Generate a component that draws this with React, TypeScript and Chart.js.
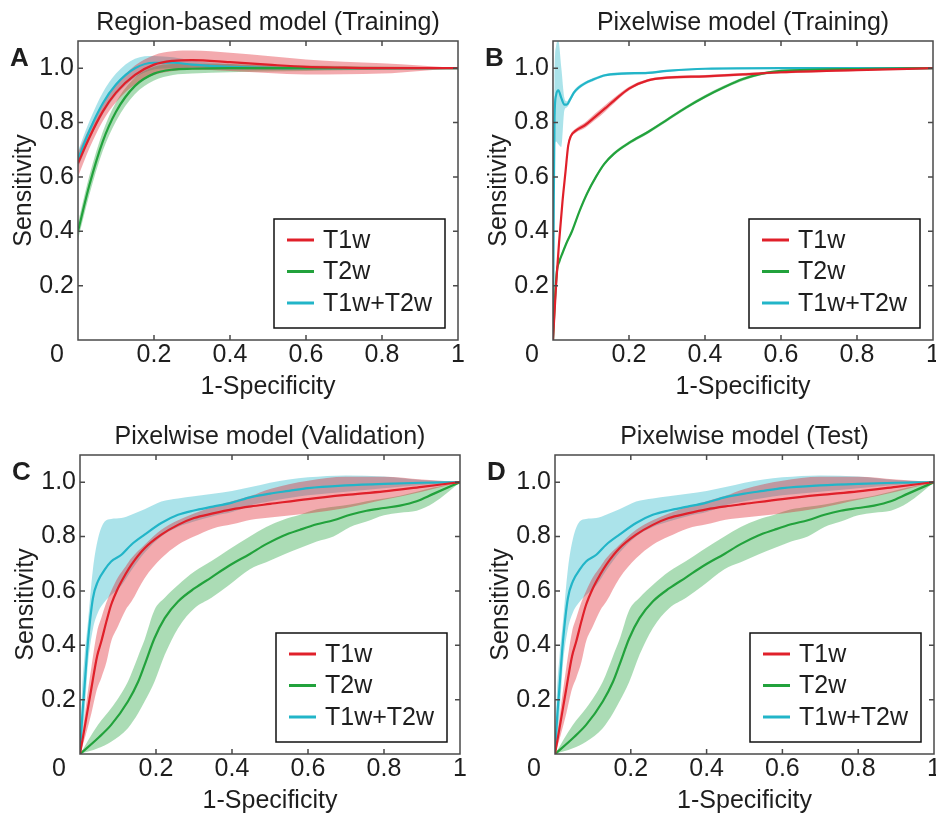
import React, { useEffect, useRef } from "react";
import { Chart, registerables } from "chart.js";

Chart.register(...registerables);

const FONT = "'Liberation Sans', Arial, Helvetica, sans-serif";
const TEXT_COLOR = "#1e1e1e";
const AXIS_COLOR = "#4a4a4a";

const SERIES_NAMES = ["T1w", "T2w", "T1w+T2w"];
const LINE_COLORS = ["#e0202a", "#22a23c", "#22b5c8"];
const BAND_COLORS = ["rgba(224,32,42,0.38)", "rgba(34,162,60,0.38)", "rgba(34,181,200,0.38)"];

const X_TICKS = [0, 0.2, 0.4, 0.6, 0.8, 1];
const Y_TICKS = [0.2, 0.4, 0.6, 0.8, 1.0];

// ---------- Panel A: Region-based model (Training) ----------
const A_X = [0, 0.03, 0.065, 0.1, 0.15, 0.2, 0.25, 0.3, 0.4, 0.5, 0.6, 0.7, 0.8, 0.9, 1];
const A_T1W = [0.65, 0.745, 0.84, 0.91, 0.975, 1.013, 1.027, 1.03, 1.022, 1.013, 1.005, 1.002, 1.0, 1.0, 1.0];
const A_T1W_LO = [0.6, 0.705, 0.805, 0.875, 0.94, 0.975, 0.99, 0.995, 0.99, 0.982, 0.977, 0.978, 0.98, 0.99, 1.0];
const A_T1W_HI = [0.69, 0.78, 0.87, 0.94, 1.01, 1.048, 1.062, 1.065, 1.057, 1.045, 1.032, 1.024, 1.018, 1.01, 1.0];
const A_T2W = [0.4, 0.57, 0.73, 0.84, 0.935, 0.98, 0.995, 0.998, 1.0, 1.0, 1.0, 1.0, 1.0, 1.0, 1.0];
const A_T2W_LO = [0.37, 0.535, 0.695, 0.805, 0.905, 0.955, 0.975, 0.98, 0.985, 0.988, 0.99, 0.992, 0.994, 0.996, 1.0];
const A_T2W_HI = [0.43, 0.605, 0.765, 0.875, 0.965, 1.005, 1.015, 1.016, 1.015, 1.012, 1.01, 1.008, 1.006, 1.004, 1.0];
const A_T12W = [0.665, 0.77, 0.87, 0.94, 1.0, 1.02, 1.02, 1.013, 1.005, 1.001, 1.0, 1.0, 1.0, 1.0, 1.0];
const A_T12W_LO = [0.635, 0.735, 0.83, 0.9, 0.965, 0.995, 1.0, 0.998, 0.995, 0.993, 0.994, 0.995, 0.996, 0.998, 1.0];
const A_T12W_HI = [0.695, 0.805, 0.91, 0.98, 1.035, 1.045, 1.04, 1.028, 1.015, 1.009, 1.006, 1.004, 1.003, 1.002, 1.0];

// ---------- Panel B: Pixelwise model (Training) ----------
const B_T1W_X = [0, 0.008, 0.016, 0.025, 0.033, 0.04, 0.047, 0.06, 0.084, 0.11, 0.137, 0.16, 0.2, 0.25, 0.3, 0.4, 0.5, 0.6, 0.8, 1];
const B_T1W = [0, 0.2, 0.36, 0.51, 0.62, 0.715, 0.75, 0.77, 0.79, 0.82, 0.852, 0.88, 0.925, 0.955, 0.965, 0.97, 0.977, 0.985, 0.993, 1.0];
const B_T1W_LO = [0, 0.19, 0.35, 0.5, 0.61, 0.705, 0.742, 0.762, 0.78, 0.808, 0.84, 0.87, 0.918, 0.95, 0.96, 0.965, 0.972, 0.98, 0.99, 1.0];
const B_T1W_HI = [0, 0.21, 0.37, 0.52, 0.63, 0.725, 0.758, 0.778, 0.8, 0.832, 0.864, 0.89, 0.932, 0.96, 0.97, 0.975, 0.982, 0.99, 0.996, 1.0];
const B_T2W_X = [0, 0.004, 0.01, 0.017, 0.025, 0.035, 0.05, 0.07, 0.09, 0.113, 0.135, 0.16, 0.2, 0.25, 0.3, 0.35, 0.4, 0.45, 0.5, 0.55, 0.6, 0.7, 0.8, 1];
const B_T2W = [0, 0.12, 0.25, 0.29, 0.32, 0.355, 0.4, 0.475, 0.54, 0.6, 0.648, 0.685, 0.725, 0.765, 0.81, 0.855, 0.895, 0.93, 0.96, 0.98, 0.99, 0.995, 0.997, 1.0];
const B_T2W_LO = [0, 0.114, 0.244, 0.284, 0.314, 0.349, 0.394, 0.469, 0.534, 0.594, 0.642, 0.679, 0.719, 0.759, 0.804, 0.849, 0.889, 0.924, 0.954, 0.975, 0.986, 0.992, 0.995, 1.0];
const B_T2W_HI = [0, 0.126, 0.256, 0.296, 0.326, 0.361, 0.406, 0.481, 0.546, 0.606, 0.654, 0.691, 0.731, 0.771, 0.816, 0.861, 0.901, 0.936, 0.966, 0.985, 0.994, 0.998, 0.999, 1.0];
const B_T12W_X = [0, 0.002, 0.004, 0.008, 0.014, 0.022, 0.03, 0.036, 0.045, 0.055, 0.067, 0.085, 0.102, 0.137, 0.18, 0.25, 0.3, 0.4, 0.6, 1];
const B_T12W = [0, 0.5, 0.82, 0.9, 0.918, 0.89, 0.866, 0.866, 0.885, 0.91, 0.928, 0.945, 0.956, 0.974, 0.98, 0.983, 0.99, 0.998, 1.0, 1.0];
const B_T12W_LO = [0, 0.45, 0.7, 0.73, 0.72, 0.71, 0.845, 0.855, 0.875, 0.902, 0.921, 0.939, 0.95, 0.969, 0.975, 0.979, 0.986, 0.995, 0.998, 1.0];
const B_T12W_HI = [0, 0.55, 0.95, 1.08, 1.1, 1.0, 0.89, 0.878, 0.895, 0.918, 0.935, 0.951, 0.962, 0.979, 0.985, 0.987, 0.994, 1.001, 1.002, 1.0];

// ---------- Panel C: Pixelwise model (Validation) ----------
const C_T1W_X = [0, 0.015, 0.03, 0.045, 0.056, 0.07, 0.082, 0.1, 0.12, 0.135, 0.17, 0.214, 0.258, 0.3, 0.35, 0.4, 0.45, 0.5, 0.6, 0.7, 0.8, 0.9, 1];
const C_T1W = [0, 0.12, 0.242, 0.36, 0.414, 0.49, 0.549, 0.61, 0.662, 0.696, 0.757, 0.807, 0.843, 0.868, 0.885, 0.9, 0.911, 0.92, 0.938, 0.953, 0.966, 0.983, 1.0];
const C_T1W_LO = [0, 0.07, 0.15, 0.24, 0.28, 0.34, 0.414, 0.47, 0.53, 0.56, 0.647, 0.72, 0.77, 0.8, 0.83, 0.845, 0.862, 0.87, 0.885, 0.905, 0.935, 0.965, 1.0];
const C_T1W_HI = [0, 0.17, 0.32, 0.45, 0.5, 0.56, 0.6, 0.65, 0.69, 0.72, 0.77, 0.825, 0.86, 0.885, 0.91, 0.93, 0.95, 0.975, 1.005, 1.02, 1.02, 1.01, 1.0];
const C_T2W_X = [0, 0.047, 0.082, 0.126, 0.153, 0.17, 0.196, 0.223, 0.258, 0.302, 0.346, 0.389, 0.447, 0.49, 0.535, 0.579, 0.623, 0.667, 0.711, 0.754, 0.8, 0.842, 0.886, 0.93, 1];
const C_T2W = [0, 0.058, 0.107, 0.193, 0.266, 0.328, 0.426, 0.5, 0.561, 0.61, 0.65, 0.69, 0.736, 0.772, 0.803, 0.825, 0.845, 0.86, 0.88, 0.895, 0.905, 0.914, 0.93, 0.957, 1.0];
const C_T2W_LO = [0, 0.021, 0.045, 0.095, 0.15, 0.193, 0.266, 0.365, 0.463, 0.537, 0.575, 0.618, 0.68, 0.705, 0.733, 0.758, 0.782, 0.8, 0.835, 0.855, 0.878, 0.888, 0.895, 0.923, 1.0];
const C_T2W_HI = [0, 0.107, 0.168, 0.266, 0.36, 0.42, 0.53, 0.575, 0.622, 0.672, 0.71, 0.75, 0.8, 0.835, 0.862, 0.88, 0.9, 0.91, 0.918, 0.93, 0.94, 0.95, 0.965, 0.98, 1.0];
const C_T12W_X = [0, 0.005, 0.012, 0.021, 0.034, 0.047, 0.065, 0.082, 0.109, 0.135, 0.17, 0.214, 0.258, 0.3, 0.35, 0.4, 0.45, 0.5, 0.55, 0.6, 0.7, 0.8, 0.9, 1];
const C_T12W = [0, 0.12, 0.25, 0.414, 0.573, 0.635, 0.678, 0.708, 0.733, 0.77, 0.807, 0.85, 0.88, 0.896, 0.91, 0.925, 0.945, 0.958, 0.968, 0.978, 0.988, 0.994, 0.998, 1.0];
const C_T12W_LO = [0, 0.05, 0.15, 0.33, 0.46, 0.52, 0.56, 0.585, 0.62, 0.675, 0.74, 0.8, 0.835, 0.855, 0.875, 0.89, 0.915, 0.93, 0.942, 0.952, 0.965, 0.978, 0.99, 1.0];
const C_T12W_HI = [0, 0.22, 0.36, 0.487, 0.68, 0.79, 0.855, 0.865, 0.868, 0.88, 0.9, 0.929, 0.94, 0.948, 0.957, 0.968, 0.982, 0.998, 1.01, 1.018, 1.025, 1.021, 1.008, 1.0];

// ---------- Panel D: Pixelwise model (Test) — curves read identical to panel C ----------
const D_T1W_X = C_T1W_X, D_T1W = C_T1W, D_T1W_LO = C_T1W_LO, D_T1W_HI = C_T1W_HI;
const D_T2W_X = C_T2W_X, D_T2W = C_T2W, D_T2W_LO = C_T2W_LO, D_T2W_HI = C_T2W_HI;
const D_T12W_X = C_T12W_X, D_T12W = C_T12W, D_T12W_LO = C_T12W_LO, D_T12W_HI = C_T12W_HI;

type Series = { x: number[]; y: number[]; lo: number[]; hi: number[] };
type PanelDef = {
  title: string;
  letter: string;
  box: { left: number; top: number; width: number; height: number };
  area: { l: number; t: number; r: number; b: number };
  series: Series[];
};

const PANELS: PanelDef[] = [
  {
    title: "Region-based model (Training)",
    letter: "A",
    box: { left: 0, top: 0, width: 468, height: 410 },
    area: { l: 78, t: 41, r: 458, b: 340 },
    series: [
      { x: A_X, y: A_T1W, lo: A_T1W_LO, hi: A_T1W_HI },
      { x: A_X, y: A_T2W, lo: A_T2W_LO, hi: A_T2W_HI },
      { x: A_X, y: A_T12W, lo: A_T12W_LO, hi: A_T12W_HI },
    ],
  },
  {
    title: "Pixelwise model (Training)",
    letter: "B",
    box: { left: 468, top: 0, width: 468, height: 410 },
    area: { l: 85, t: 41, r: 465, b: 340 },
    series: [
      { x: B_T1W_X, y: B_T1W, lo: B_T1W_LO, hi: B_T1W_HI },
      { x: B_T2W_X, y: B_T2W, lo: B_T2W_LO, hi: B_T2W_HI },
      { x: B_T12W_X, y: B_T12W, lo: B_T12W_LO, hi: B_T12W_HI },
    ],
  },
  {
    title: "Pixelwise model (Validation)",
    letter: "C",
    box: { left: 0, top: 410, width: 468, height: 409 },
    area: { l: 80, t: 45, r: 460, b: 344 },
    series: [
      { x: C_T1W_X, y: C_T1W, lo: C_T1W_LO, hi: C_T1W_HI },
      { x: C_T2W_X, y: C_T2W, lo: C_T2W_LO, hi: C_T2W_HI },
      { x: C_T12W_X, y: C_T12W, lo: C_T12W_LO, hi: C_T12W_HI },
    ],
  },
  {
    title: "Pixelwise model (Test)",
    letter: "D",
    box: { left: 468, top: 410, width: 468, height: 409 },
    area: { l: 87, t: 45, r: 466, b: 344 },
    series: [
      { x: D_T1W_X, y: D_T1W, lo: D_T1W_LO, hi: D_T1W_HI },
      { x: D_T2W_X, y: D_T2W, lo: D_T2W_LO, hi: D_T2W_HI },
      { x: D_T12W_X, y: D_T12W, lo: D_T12W_LO, hi: D_T12W_HI },
    ],
  },
];

const Y_AXIS_W = 70;
const X_AXIS_H = 62;
const TITLE_PAD = { top: 4, bottom: 2.5 };
const TITLE_H = 30 + TITLE_PAD.top + TITLE_PAD.bottom;

const decorPlugin = {
  id: "panelDecor",
  afterDraw(chart: any, _args: any, opts: any) {
    const ctx = chart.ctx as CanvasRenderingContext2D;
    const { left, right, top, bottom } = chart.chartArea;
    const xs = chart.scales.x;
    const ys = chart.scales.y;
    ctx.save();
    // frame
    ctx.strokeStyle = AXIS_COLOR;
    ctx.lineWidth = 1.5;
    ctx.strokeRect(left, top, right - left, bottom - top);
    // inward ticks on all four sides
    const tl = 5;
    ctx.beginPath();
    X_TICKS.forEach((v) => {
      if (v <= 0 || v >= 1) return;
      const px = xs.getPixelForValue(v);
      ctx.moveTo(px, bottom);
      ctx.lineTo(px, bottom - tl);
      ctx.moveTo(px, top);
      ctx.lineTo(px, top + tl);
    });
    Y_TICKS.forEach((v) => {
      const py = ys.getPixelForValue(v);
      ctx.moveTo(left, py);
      ctx.lineTo(left + tl, py);
      ctx.moveTo(right, py);
      ctx.lineTo(right - tl, py);
    });
    ctx.stroke();

    // corner "0"
    ctx.fillStyle = TEXT_COLOR;
    ctx.font = `25px ${FONT}`;
    ctx.textAlign = "center";
    ctx.textBaseline = "middle";
    ctx.fillText("0", xs.getPixelForValue(0) - 21, bottom + 15);

    // panel letter
    ctx.font = `bold 26px ${FONT}`;
    ctx.textAlign = "left";
    ctx.textBaseline = "alphabetic";
    ctx.fillText(opts.letter, left - 68, top + 25);

    // legend
    const bw = 171;
    const bh = 109;
    const bx = right - 13 - bw;
    const by = bottom - 12 - bh;
    ctx.fillStyle = "#ffffff";
    ctx.fillRect(bx, by, bw, bh);
    ctx.strokeStyle = "#111111";
    ctx.lineWidth = 1.5;
    ctx.strokeRect(bx, by, bw, bh);
    ctx.font = `25px ${FONT}`;
    ctx.textBaseline = "middle";
    ctx.textAlign = "left";
    SERIES_NAMES.forEach((name, i) => {
      const yy = by + 21 + 31.5 * i;
      ctx.strokeStyle = LINE_COLORS[i];
      ctx.lineWidth = 3;
      ctx.beginPath();
      ctx.moveTo(bx + 13, yy);
      ctx.lineTo(bx + 40, yy);
      ctx.stroke();
      ctx.fillStyle = TEXT_COLOR;
      ctx.fillText(name, bx + 49, yy + 1);
    });
    ctx.restore();
  },
};

function toPts(xs: number[], ys: number[]) {
  return xs.map((x, i) => ({ x, y: ys[i] }));
}

function buildDatasets(series: Series[]) {
  const lines: any[] = [];
  const bands: any[] = [];
  series.forEach((s, i) => {
    lines.push({
      label: SERIES_NAMES[i],
      data: toPts(s.x, s.y),
      borderColor: LINE_COLORS[i],
      borderWidth: 2.2,
      pointRadius: 0,
      fill: false,
      cubicInterpolationMode: "monotone",
      order: 0,
    });
  });
  series.forEach((s, i) => {
    const loIndex = lines.length + bands.length;
    bands.push({
      label: SERIES_NAMES[i] + " lo",
      data: toPts(s.x, s.lo),
      borderWidth: 0,
      borderColor: "rgba(0,0,0,0)",
      pointRadius: 0,
      fill: false,
      cubicInterpolationMode: "monotone",
      order: 1,
    });
    bands.push({
      label: SERIES_NAMES[i] + " hi",
      data: toPts(s.x, s.hi),
      borderWidth: 0,
      borderColor: "rgba(0,0,0,0)",
      backgroundColor: BAND_COLORS[i],
      pointRadius: 0,
      fill: loIndex,
      cubicInterpolationMode: "monotone",
      order: 1,
    });
  });
  return [...lines, ...bands];
}

function Panel({ def }: { def: PanelDef }) {
  const ref = useRef<HTMLCanvasElement | null>(null);
  useEffect(() => {
    if (!ref.current) return;
    const { box, area } = def;
    const font = { family: FONT, size: 25, lineHeight: 1.2 };
    const chart = new Chart(ref.current, {
      type: "line",
      data: { datasets: buildDatasets(def.series) },
      plugins: [decorPlugin],
      options: {
        responsive: false,
        animation: false,
        events: [],
        layout: {
          padding: {
            left: area.l - Y_AXIS_W,
            right: box.width - area.r,
            top: area.t - TITLE_H,
            bottom: box.height - area.b - X_AXIS_H,
          },
        },
        plugins: {
          legend: { display: false },
          tooltip: { enabled: false },
          title: {
            display: true,
            text: def.title,
            fullSize: false,
            color: TEXT_COLOR,
            font: { ...font, weight: "normal" },
            padding: TITLE_PAD,
          },
          filler: { propagate: false },
          panelDecor: { letter: def.letter },
        } as any,
        scales: {
          x: {
            type: "linear",
            min: 0,
            max: 1,
            grid: { display: false, drawTicks: false },
            border: { display: false },
            afterBuildTicks: (ax: any) => {
              ax.ticks = X_TICKS.map((v) => ({ value: v }));
            },
            afterFit: (s: any) => {
              s.height = X_AXIS_H;
              s.paddingLeft = 0;
              s.paddingRight = 0;
            },
            ticks: {
              color: TEXT_COLOR,
              font,
              padding: 0,
              maxRotation: 0,
              minRotation: 0,
              autoSkip: false,
              callback: (v: any) => (Number(v) === 0 ? "" : String(Number(v))),
            },
            title: {
              display: true,
              text: "1-Specificity",
              color: TEXT_COLOR,
              font,
              padding: 0,
            },
          },
          y: {
            type: "linear",
            min: 0,
            max: 1.1,
            grid: { display: false, drawTicks: false },
            border: { display: false },
            afterBuildTicks: (ax: any) => {
              ax.ticks = Y_TICKS.map((v) => ({ value: v }));
            },
            afterFit: (s: any) => {
              s.width = Y_AXIS_W;
              s.paddingTop = 0;
              s.paddingBottom = 0;
            },
            ticks: {
              color: TEXT_COLOR,
              font,
              padding: 4,
              autoSkip: false,
              callback: (v: any) => Number(v).toFixed(1),
            },
            title: {
              display: true,
              text: "Sensitivity",
              color: TEXT_COLOR,
              font,
              padding: { top: 1.5, bottom: 0 },
            },
          },
        },
      } as any,
    });
    return () => chart.destroy();
  }, [def]);
  const { box } = def;
  return (
    <canvas
      ref={ref}
      width={box.width}
      height={box.height}
      style={{ position: "absolute", left: box.left, top: box.top, width: box.width, height: box.height }}
    />
  );
}

export default function App() {
  return (
    <div style={{ position: "absolute", left: 0, top: 0, width: 936, height: 819, background: "#ffffff", overflow: "hidden" }}>
      {PANELS.map((p) => (
        <Panel key={p.letter} def={p} />
      ))}
    </div>
  );
}
